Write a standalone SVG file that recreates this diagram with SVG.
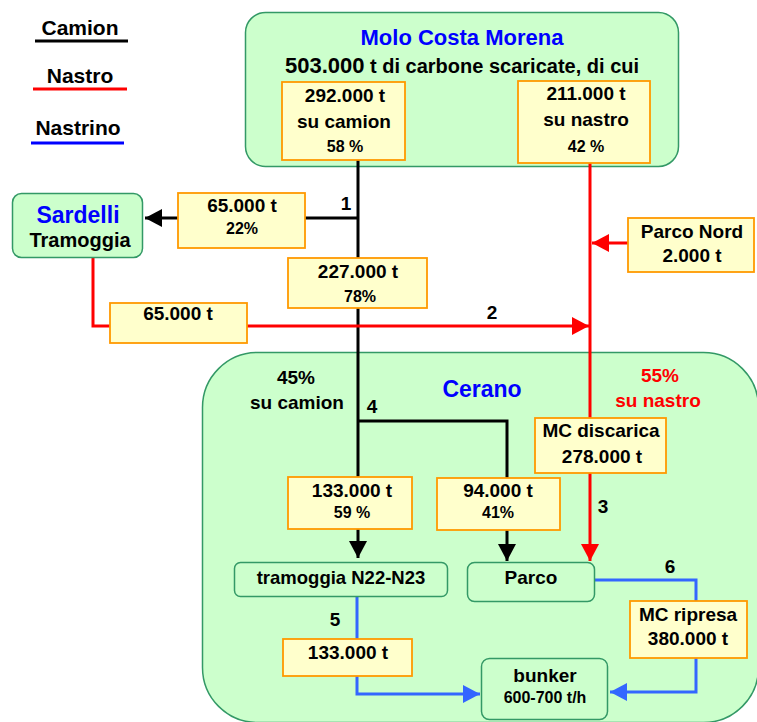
<svg xmlns="http://www.w3.org/2000/svg" width="757" height="722" viewBox="0 0 757 722">
<style>
text{font-family:"Liberation Sans",Arial,sans-serif;font-weight:bold;text-anchor:middle;fill:#000}
.t19{font-size:19px}
.t16{font-size:16px}
.t21{font-size:21px}
.blue{fill:#0000ff}
.red{fill:#ff0000}
.g{fill:#ccffcc;stroke:#339966;stroke-width:1.5}
.y{fill:#ffffcc;stroke:#ff9900;stroke-width:1.8}
.lk{fill:none;stroke:#000;stroke-width:3}
.lr{fill:none;stroke:#ff0000;stroke-width:3}
.lb{fill:none;stroke:#3366ff;stroke-width:3}
</style>
<defs>
<marker id="ak" markerUnits="userSpaceOnUse" viewBox="0 0 17 18" refX="17" refY="9" markerWidth="17" markerHeight="18" orient="auto"><path d="M0,0 L17,9 L0,18 z" fill="#000"/></marker>
<marker id="ar" markerUnits="userSpaceOnUse" viewBox="0 0 17 18" refX="17" refY="9" markerWidth="17" markerHeight="18" orient="auto"><path d="M0,0 L17,9 L0,18 z" fill="#ff0000"/></marker>
<marker id="ab" markerUnits="userSpaceOnUse" viewBox="0 0 17 18" refX="17" refY="9" markerWidth="17" markerHeight="18" orient="auto"><path d="M0,0 L17,9 L0,18 z" fill="#3366ff"/></marker>
</defs>

<g id="legend">
<text class="t21" x="80" y="35">Camion</text>
<line x1="35" y1="41" x2="128" y2="41" stroke="#000" stroke-width="3"/>
<text class="t21" x="80" y="83">Nastro</text>
<line x1="33" y1="89" x2="127" y2="89" stroke="#ff0000" stroke-width="3"/>
<text class="t21" x="78" y="135">Nastrino</text>
<line x1="31" y1="143" x2="124" y2="143" stroke="#0000ff" stroke-width="3"/>
</g>

<g id="molo">
<rect class="g" x="245.5" y="12.5" width="433" height="154" rx="20"/>
<text class="blue" x="462" y="45" style="font-size:22px">Molo Costa Morena</text>
<text x="462" y="73" style="font-size:20px"><tspan style="font-size:22px">503.000</tspan> t di carbone scaricate, di cui</text>
</g>

<g id="cerano">
<rect class="g" x="202.5" y="352.5" width="556" height="370" rx="55"/>
<text class="blue" x="482" y="397" style="font-size:23px">Cerano</text>
<text class="t19" x="296" y="384">45%</text>
<text class="t19" x="297" y="409">su camion</text>
<text class="t19 red" x="660" y="382">55%</text>
<text class="t19 red" x="658" y="407">su nastro</text>
</g>

<g id="connectors">
<line class="lk" x1="358" y1="160" x2="358" y2="558" marker-end="url(#ak)"/>
<line class="lk" x1="358" y1="218" x2="145" y2="218" marker-end="url(#ak)"/>
<polyline class="lk" points="358,421 507,421 507,561" marker-end="url(#ak)"/>
<line class="lr" x1="590" y1="163" x2="590" y2="561" marker-end="url(#ar)"/>
<polyline class="lr" points="93,258 93,326 589,326" marker-end="url(#ar)"/>
<line class="lr" x1="628" y1="243" x2="592" y2="243" marker-end="url(#ar)"/>
<polyline class="lb" points="357,597 357,694 480,694" marker-end="url(#ab)"/>
<polyline class="lb" points="595,580 696,580 696,692 610,692" marker-end="url(#ab)"/>
<text class="t19" x="346" y="210">1</text>
<text class="t19" x="492" y="319">2</text>
<text class="t19" x="603" y="513">3</text>
<text class="t19" x="372" y="413">4</text>
<text class="t19" x="335" y="626">5</text>
<text class="t19" x="670" y="573">6</text>
</g>

<g id="camion292">
<rect class="y" x="282" y="82" width="123" height="78"/>
<text class="t19" x="345" y="102">292.000 t</text>
<text class="t19" x="344" y="128">su camion</text>
<text class="t16" x="345" y="152">58 %</text>
</g>

<g id="nastro211">
<rect class="y" x="518" y="81" width="132" height="82"/>
<text class="t19" x="586" y="100">211.000 t</text>
<text class="t19" x="586" y="126">su nastro</text>
<text class="t16" x="586" y="152">42 %</text>
</g>

<g id="sardelli">
<rect class="g" x="12.5" y="193.5" width="130" height="64" rx="9"/>
<text class="blue" x="78" y="223" style="font-size:23px">Sardelli</text>
<text x="80" y="247" style="font-size:20px">Tramoggia</text>
</g>

<g id="flow65a">
<rect class="y" x="178" y="193" width="127" height="55"/>
<text class="t19" x="242" y="212">65.000 t</text>
<text class="t16" x="242" y="234">22%</text>
</g>

<g id="flow227">
<rect class="y" x="288" y="258" width="139" height="50"/>
<text class="t19" x="358" y="278">227.000 t</text>
<text class="t16" x="360" y="302">78%</text>
</g>

<g id="flow65b">
<rect class="y" x="110" y="303" width="137" height="40"/>
<text class="t19" x="178" y="320">65.000 t</text>
</g>

<g id="parconord">
<rect class="y" x="628" y="218" width="126" height="54"/>
<text class="t19" x="692" y="238">Parco Nord</text>
<text class="t19" x="692" y="262">2.000 t</text>
</g>

<g id="mcdiscarica">
<rect class="y" x="535" y="418" width="131" height="55"/>
<text class="t19" x="601" y="437">MC discarica</text>
<text class="t19" x="602" y="463">278.000 t</text>
</g>

<g id="flow133a">
<rect class="y" x="288" y="477" width="124" height="52"/>
<text class="t19" x="352" y="497">133.000 t</text>
<text class="t16" x="352" y="518">59 %</text>
</g>

<g id="flow94">
<rect class="y" x="437" y="478" width="123" height="52"/>
<text class="t19" x="498" y="497">94.000 t</text>
<text class="t16" x="498" y="518">41%</text>
</g>

<g id="tramoggia">
<rect class="g" x="234.5" y="562.5" width="213" height="34" rx="6"/>
<text x="341" y="584" style="font-size:18.5px">tramoggia N22-N23</text>
</g>

<g id="parco">
<rect class="g" x="467.5" y="562.5" width="127" height="39" rx="7"/>
<text class="t19" x="531" y="584">Parco</text>
</g>

<g id="flow133b">
<rect class="y" x="283" y="639" width="129" height="37"/>
<text class="t19" x="348" y="659">133.000 t</text>
</g>

<g id="mcripresa">
<rect class="y" x="630" y="601" width="117" height="57"/>
<text class="t19" x="688" y="621">MC ripresa</text>
<text class="t19" x="688" y="645">380.000 t</text>
</g>

<g id="bunker">
<rect class="g" x="481.5" y="658.5" width="126" height="61" rx="8"/>
<text class="t19" x="545" y="682">bunker</text>
<text class="t16" x="545" y="703">600-700 t/h</text>
</g>
</svg>
